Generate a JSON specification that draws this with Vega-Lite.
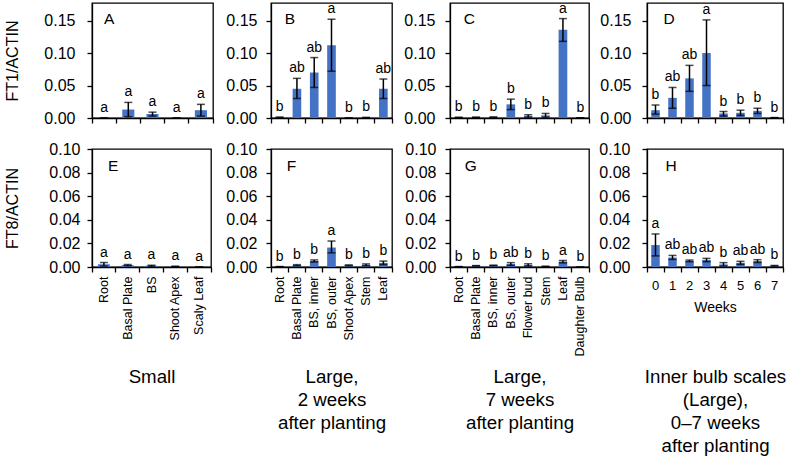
{
  "$schema": "https://vega.github.io/schema/vega-lite/v6.json",
  "padding": {"left": 4, "top": 0, "right": 1, "bottom": 1},
  "config": {
    "font": "Liberation Sans",
    "view": {"stroke": "#000", "strokeWidth": 1.3},
    "axis": {"labelFont": "Liberation Sans", "titleFont": "Liberation Sans", "labelColor": "#000", "titleColor": "#000", "domainColor": "#000", "tickColor": "#000", "grid": false, "labelFontSize": 16, "titleFontSize": 16, "titleFontWeight": "normal", "tickSize": 5, "domainWidth": 1.3, "tickWidth": 1.3, "labelOverlap": false},
    "text": {"font": "Liberation Sans", "fontSize": 14, "color": "#000"}
  },
  "datasets": {
    "A": [
      {"cat": "Root", "value": 0, "lo": 0, "hi": 0, "letter": "a"},
      {"cat": "Basal Plate", "value": 0.013, "lo": 0.002, "hi": 0.024, "letter": "a"},
      {"cat": "BS", "value": 0.006, "lo": 0.003, "hi": 0.009, "letter": "a"},
      {"cat": "Shoot Apex", "value": 0, "lo": 0, "hi": 0, "letter": "a"},
      {"cat": "Scaly Leaf", "value": 0.012, "lo": 0.003, "hi": 0.021, "letter": "a"}
    ],
    "B": [
      {"cat": "Root", "value": 0.001, "lo": 0.0005, "hi": 0.0015, "letter": "b"},
      {"cat": "Basal Plate", "value": 0.045, "lo": 0.030, "hi": 0.061, "letter": "ab"},
      {"cat": "BS, inner", "value": 0.070, "lo": 0.047, "hi": 0.093, "letter": "ab"},
      {"cat": "BS, outer", "value": 0.112, "lo": 0.072, "hi": 0.152, "letter": "a"},
      {"cat": "Shoot Apex", "value": 0, "lo": 0, "hi": 0, "letter": "b"},
      {"cat": "Stem", "value": 0.0005, "lo": 0, "hi": 0.001, "letter": "b"},
      {"cat": "Leaf", "value": 0.045, "lo": 0.030, "hi": 0.060, "letter": "ab"}
    ],
    "C": [
      {"cat": "Root", "value": 0.0008, "lo": 0.0005, "hi": 0.0012, "letter": "b"},
      {"cat": "Basal Plate", "value": 0.001, "lo": 0.0006, "hi": 0.0014, "letter": "b"},
      {"cat": "BS, inner", "value": 0.0012, "lo": 0.0007, "hi": 0.0017, "letter": "b"},
      {"cat": "BS, outer", "value": 0.021, "lo": 0.013, "hi": 0.029, "letter": "b"},
      {"cat": "Flower bud", "value": 0.003, "lo": 0.001, "hi": 0.005, "letter": "b"},
      {"cat": "Stem", "value": 0.004, "lo": 0.001, "hi": 0.007, "letter": "b"},
      {"cat": "Leaf", "value": 0.136, "lo": 0.118, "hi": 0.153, "letter": "a"},
      {"cat": "Daughter Bulb", "value": 0.0003, "lo": 0.0002, "hi": 0.0004, "letter": "b"}
    ],
    "D": [
      {"cat": "0", "value": 0.012, "lo": 0.006, "hi": 0.020, "letter": "b"},
      {"cat": "1", "value": 0.031, "lo": 0.015, "hi": 0.047, "letter": "ab"},
      {"cat": "2", "value": 0.061, "lo": 0.041, "hi": 0.081, "letter": "ab"},
      {"cat": "3", "value": 0.100, "lo": 0.050, "hi": 0.151, "letter": "a"},
      {"cat": "4", "value": 0.007, "lo": 0.003, "hi": 0.010, "letter": "b"},
      {"cat": "5", "value": 0.008, "lo": 0.004, "hi": 0.012, "letter": "b"},
      {"cat": "6", "value": 0.011, "lo": 0.007, "hi": 0.015, "letter": "b"},
      {"cat": "7", "value": 0.0005, "lo": 0.0003, "hi": 0.0007, "letter": "b"}
    ],
    "E": [
      {"cat": "Root", "value": 0.0023, "lo": 0.0008, "hi": 0.0038, "letter": "a"},
      {"cat": "Basal Plate", "value": 0.0016, "lo": 0.0011, "hi": 0.0021, "letter": "a"},
      {"cat": "BS", "value": 0.001, "lo": 0.0005, "hi": 0.0015, "letter": "a"},
      {"cat": "Shoot Apex", "value": 0.0005, "lo": 0.0003, "hi": 0.0007, "letter": "a"},
      {"cat": "Scaly Leaf", "value": 0, "lo": 0, "hi": 0, "letter": "a"}
    ],
    "F": [
      {"cat": "Root", "value": 0.0003, "lo": 0.0002, "hi": 0.0004, "letter": "b"},
      {"cat": "Basal Plate", "value": 0.0015, "lo": 0.001, "hi": 0.002, "letter": "b"},
      {"cat": "BS, inner", "value": 0.0051, "lo": 0.0042, "hi": 0.006, "letter": "b"},
      {"cat": "BS, outer", "value": 0.0165, "lo": 0.012, "hi": 0.022, "letter": "a"},
      {"cat": "Shoot Apex", "value": 0.0014, "lo": 0.001, "hi": 0.0018, "letter": "b"},
      {"cat": "Stem", "value": 0.0018, "lo": 0.001, "hi": 0.0026, "letter": "b"},
      {"cat": "Leaf", "value": 0.0035, "lo": 0.002, "hi": 0.005, "letter": "b"}
    ],
    "G": [
      {"cat": "Root", "value": 0.0003, "lo": 0.0002, "hi": 0.0004, "letter": "b"},
      {"cat": "Basal Plate", "value": 0.001, "lo": 0.0008, "hi": 0.0012, "letter": "b"},
      {"cat": "BS, inner", "value": 0.0013, "lo": 0.001, "hi": 0.0016, "letter": "b"},
      {"cat": "BS, outer", "value": 0.0025, "lo": 0.0013, "hi": 0.0037, "letter": "ab"},
      {"cat": "Flower bud", "value": 0.0017, "lo": 0.0007, "hi": 0.0027, "letter": "b"},
      {"cat": "Stem", "value": 0.0005, "lo": 0.0003, "hi": 0.0007, "letter": "b"},
      {"cat": "Leaf", "value": 0.0045, "lo": 0.0035, "hi": 0.0055, "letter": "a"},
      {"cat": "Daughter Bulb", "value": 0, "lo": 0, "hi": 0, "letter": "b"}
    ],
    "H": [
      {"cat": "0", "value": 0.0186, "lo": 0.0094, "hi": 0.028, "letter": "a"},
      {"cat": "1", "value": 0.008, "lo": 0.0064, "hi": 0.0098, "letter": "ab"},
      {"cat": "2", "value": 0.0052, "lo": 0.0045, "hi": 0.0059, "letter": "ab"},
      {"cat": "3", "value": 0.006, "lo": 0.0045, "hi": 0.0073, "letter": "ab"},
      {"cat": "4", "value": 0.0022, "lo": 0.0008, "hi": 0.0037, "letter": "b"},
      {"cat": "5", "value": 0.0035, "lo": 0.0022, "hi": 0.0048, "letter": "ab"},
      {"cat": "6", "value": 0.005, "lo": 0.0038, "hi": 0.0062, "letter": "ab"},
      {"cat": "7", "value": 0.001, "lo": 0.0007, "hi": 0.0013, "letter": "b"}
    ]
  },
  "columns": 4,
  "bounds": "flush",
  "align": "each",
  "spacing": {"row": 31, "column": 58},
  "concat": [
    {
      "width": 121, "height": 115,
      "data": {"name": "A"},
      "encoding": {"x": {"field": "cat", "type": "nominal", "sort": null, "scale": {"type": "band", "paddingInner": 0, "paddingOuter": 0}, "axis": {"labels": false, "title": null, "bandPosition": 1, "tickExtra": true}}},
      "layer": [
        {"mark": {"type": "bar", "color": "#4472C4", "width": {"band": 0.5}}, "encoding": {"y": {"field": "value", "type": "quantitative", "scale": {"domain": [0, 0.177], "nice": false}, "axis": {"values": [0, 0.05, 0.1, 0.15], "format": ".2f", "title": "FT1/ACTIN", "labelPadding": 12, "titlePadding": 23}}}},
        {"mark": {"type": "errorbar", "ticks": true, "size": 8, "thickness": 1.5, "color": "#000"}, "encoding": {"y": {"field": "lo", "type": "quantitative", "scale": {"domain": [0, 0.177], "nice": false}, "axis": {"values": [0, 0.05, 0.1, 0.15], "format": ".2f", "title": "FT1/ACTIN", "labelPadding": 12, "titlePadding": 23}}, "y2": {"field": "hi"}}},
        {"mark": {"type": "text", "baseline": "alphabetic", "dy": -6}, "encoding": {"y": {"field": "hi", "type": "quantitative", "scale": {"domain": [0, 0.177], "nice": false}, "axis": {"values": [0, 0.05, 0.1, 0.15], "format": ".2f", "title": "FT1/ACTIN", "labelPadding": 12, "titlePadding": 23}}, "text": {"field": "letter"}}},
        {"transform": [{"filter": "datum.cat == 'Root'"}], "mark": {"type": "text", "align": "left", "baseline": "alphabetic", "fontSize": 15.5, "dx": 0}, "encoding": {"y": {"datum": 0.145, "type": "quantitative", "scale": {"domain": [0, 0.177], "nice": false}, "axis": {"values": [0, 0.05, 0.1, 0.15], "format": ".2f", "title": "FT1/ACTIN", "labelPadding": 12, "titlePadding": 23}}, "text": {"value": "A"}}}
      ]
    },
    {
      "width": 121, "height": 115,
      "data": {"name": "B"},
      "encoding": {"x": {"field": "cat", "type": "nominal", "sort": null, "scale": {"type": "band", "paddingInner": 0, "paddingOuter": 0}, "axis": {"labels": false, "title": null, "bandPosition": 1, "tickExtra": true}}},
      "layer": [
        {"mark": {"type": "bar", "color": "#4472C4", "width": {"band": 0.5}}, "encoding": {"y": {"field": "value", "type": "quantitative", "scale": {"domain": [0, 0.177], "nice": false}, "axis": {"values": [0, 0.05, 0.1, 0.15], "format": ".2f", "title": null, "labelPadding": 9}}}},
        {"mark": {"type": "errorbar", "ticks": true, "size": 8, "thickness": 1.5, "color": "#000"}, "encoding": {"y": {"field": "lo", "type": "quantitative", "scale": {"domain": [0, 0.177], "nice": false}, "axis": {"values": [0, 0.05, 0.1, 0.15], "format": ".2f", "title": null, "labelPadding": 9}}, "y2": {"field": "hi"}}},
        {"mark": {"type": "text", "baseline": "alphabetic", "dy": -6}, "encoding": {"y": {"field": "hi", "type": "quantitative", "scale": {"domain": [0, 0.177], "nice": false}, "axis": {"values": [0, 0.05, 0.1, 0.15], "format": ".2f", "title": null, "labelPadding": 9}}, "text": {"field": "letter"}}},
        {"transform": [{"filter": "datum.cat == 'Root'"}], "mark": {"type": "text", "align": "left", "baseline": "alphabetic", "fontSize": 15.5, "dx": 5}, "encoding": {"y": {"datum": 0.145, "type": "quantitative", "scale": {"domain": [0, 0.177], "nice": false}, "axis": {"values": [0, 0.05, 0.1, 0.15], "format": ".2f", "title": null, "labelPadding": 9}}, "text": {"value": "B"}}}
      ]
    },
    {
      "width": 139, "height": 115,
      "data": {"name": "C"},
      "encoding": {"x": {"field": "cat", "type": "nominal", "sort": null, "scale": {"type": "band", "paddingInner": 0, "paddingOuter": 0}, "axis": {"labels": false, "title": null, "bandPosition": 1, "tickExtra": true}}},
      "layer": [
        {"mark": {"type": "bar", "color": "#4472C4", "width": {"band": 0.5}}, "encoding": {"y": {"field": "value", "type": "quantitative", "scale": {"domain": [0, 0.177], "nice": false}, "axis": {"values": [0, 0.05, 0.1, 0.15], "format": ".2f", "title": null, "labelPadding": 10}}}},
        {"mark": {"type": "errorbar", "ticks": true, "size": 8, "thickness": 1.5, "color": "#000"}, "encoding": {"y": {"field": "lo", "type": "quantitative", "scale": {"domain": [0, 0.177], "nice": false}, "axis": {"values": [0, 0.05, 0.1, 0.15], "format": ".2f", "title": null, "labelPadding": 10}}, "y2": {"field": "hi"}}},
        {"mark": {"type": "text", "baseline": "alphabetic", "dy": -6}, "encoding": {"y": {"field": "hi", "type": "quantitative", "scale": {"domain": [0, 0.177], "nice": false}, "axis": {"values": [0, 0.05, 0.1, 0.15], "format": ".2f", "title": null, "labelPadding": 10}}, "text": {"field": "letter"}}},
        {"transform": [{"filter": "datum.cat == 'Root'"}], "mark": {"type": "text", "align": "left", "baseline": "alphabetic", "fontSize": 15.5, "dx": 5}, "encoding": {"y": {"datum": 0.145, "type": "quantitative", "scale": {"domain": [0, 0.177], "nice": false}, "axis": {"values": [0, 0.05, 0.1, 0.15], "format": ".2f", "title": null, "labelPadding": 10}}, "text": {"value": "C"}}}
      ]
    },
    {
      "width": 136, "height": 115,
      "data": {"name": "D"},
      "encoding": {"x": {"field": "cat", "type": "nominal", "sort": null, "scale": {"type": "band", "paddingInner": 0, "paddingOuter": 0}, "axis": {"labels": false, "title": null, "bandPosition": 1, "tickExtra": true}}},
      "layer": [
        {"mark": {"type": "bar", "color": "#4472C4", "width": {"band": 0.5}}, "encoding": {"y": {"field": "value", "type": "quantitative", "scale": {"domain": [0, 0.177], "nice": false}, "axis": {"values": [0, 0.05, 0.1, 0.15], "format": ".2f", "title": null, "labelPadding": 11}}}},
        {"mark": {"type": "errorbar", "ticks": true, "size": 8, "thickness": 1.5, "color": "#000"}, "encoding": {"y": {"field": "lo", "type": "quantitative", "scale": {"domain": [0, 0.177], "nice": false}, "axis": {"values": [0, 0.05, 0.1, 0.15], "format": ".2f", "title": null, "labelPadding": 11}}, "y2": {"field": "hi"}}},
        {"mark": {"type": "text", "baseline": "alphabetic", "dy": -6}, "encoding": {"y": {"field": "hi", "type": "quantitative", "scale": {"domain": [0, 0.177], "nice": false}, "axis": {"values": [0, 0.05, 0.1, 0.15], "format": ".2f", "title": null, "labelPadding": 11}}, "text": {"field": "letter"}}},
        {"transform": [{"filter": "datum.cat == '0'"}], "mark": {"type": "text", "align": "left", "baseline": "alphabetic", "fontSize": 15.5, "dx": 8}, "encoding": {"y": {"datum": 0.145, "type": "quantitative", "scale": {"domain": [0, 0.177], "nice": false}, "axis": {"values": [0, 0.05, 0.1, 0.15], "format": ".2f", "title": null, "labelPadding": 11}}, "text": {"value": "D"}}}
      ]
    },
    {
      "width": 119, "height": 118,
      "data": {"name": "E"},
      "encoding": {"x": {"field": "cat", "type": "nominal", "sort": null, "scale": {"type": "band", "paddingInner": 0, "paddingOuter": 0}, "axis": {"labelAngle": -90, "labelFontSize": 12.5, "labelPadding": 4, "bandPosition": 1, "tickExtra": true, "title": ["Small"], "titleY": 100, "titleBaseline": "top", "titleFontSize": 18.7, "titleLineHeight": 23}}},
      "layer": [
        {"mark": {"type": "bar", "color": "#4472C4", "width": {"band": 0.5}}, "encoding": {"y": {"field": "value", "type": "quantitative", "scale": {"domain": [0, 0.1], "nice": false}, "axis": {"values": [0, 0.02, 0.04, 0.06, 0.08, 0.1], "format": ".2f", "title": "FT8/ACTIN", "labelPadding": 7, "titlePadding": 28}}}},
        {"mark": {"type": "errorbar", "ticks": true, "size": 8, "thickness": 1.5, "color": "#000"}, "encoding": {"y": {"field": "lo", "type": "quantitative", "scale": {"domain": [0, 0.1], "nice": false}, "axis": {"values": [0, 0.02, 0.04, 0.06, 0.08, 0.1], "format": ".2f", "title": "FT8/ACTIN", "labelPadding": 7, "titlePadding": 28}}, "y2": {"field": "hi"}}},
        {"mark": {"type": "text", "baseline": "alphabetic", "dy": -6}, "encoding": {"y": {"field": "hi", "type": "quantitative", "scale": {"domain": [0, 0.1], "nice": false}, "axis": {"values": [0, 0.02, 0.04, 0.06, 0.08, 0.1], "format": ".2f", "title": "FT8/ACTIN", "labelPadding": 7, "titlePadding": 28}}, "text": {"field": "letter"}}},
        {"transform": [{"filter": "datum.cat == 'Root'"}], "mark": {"type": "text", "align": "left", "baseline": "alphabetic", "fontSize": 15.5, "dx": 4}, "encoding": {"y": {"datum": 0.0816, "type": "quantitative", "scale": {"domain": [0, 0.1], "nice": false}, "axis": {"values": [0, 0.02, 0.04, 0.06, 0.08, 0.1], "format": ".2f", "title": "FT8/ACTIN", "labelPadding": 7, "titlePadding": 28}}, "text": {"value": "E"}}}
      ]
    },
    {
      "width": 121, "height": 118,
      "data": {"name": "F"},
      "encoding": {"x": {"field": "cat", "type": "nominal", "sort": null, "scale": {"type": "band", "paddingInner": 0, "paddingOuter": 0}, "axis": {"labelAngle": -90, "labelFontSize": 12.5, "labelPadding": 4, "bandPosition": 1, "tickExtra": true, "title": ["Large,", "2 weeks", "after planting"], "titleY": 100, "titleBaseline": "top", "titleFontSize": 18.7, "titleLineHeight": 23}}},
      "layer": [
        {"mark": {"type": "bar", "color": "#4472C4", "width": {"band": 0.5}}, "encoding": {"y": {"field": "value", "type": "quantitative", "scale": {"domain": [0, 0.1], "nice": false}, "axis": {"values": [0, 0.02, 0.04, 0.06, 0.08, 0.1], "format": ".2f", "title": null, "labelPadding": 9}}}},
        {"mark": {"type": "errorbar", "ticks": true, "size": 8, "thickness": 1.5, "color": "#000"}, "encoding": {"y": {"field": "lo", "type": "quantitative", "scale": {"domain": [0, 0.1], "nice": false}, "axis": {"values": [0, 0.02, 0.04, 0.06, 0.08, 0.1], "format": ".2f", "title": null, "labelPadding": 9}}, "y2": {"field": "hi"}}},
        {"mark": {"type": "text", "baseline": "alphabetic", "dy": -6}, "encoding": {"y": {"field": "hi", "type": "quantitative", "scale": {"domain": [0, 0.1], "nice": false}, "axis": {"values": [0, 0.02, 0.04, 0.06, 0.08, 0.1], "format": ".2f", "title": null, "labelPadding": 9}}, "text": {"field": "letter"}}},
        {"transform": [{"filter": "datum.cat == 'Root'"}], "mark": {"type": "text", "align": "left", "baseline": "alphabetic", "fontSize": 15.5, "dx": 7}, "encoding": {"y": {"datum": 0.0816, "type": "quantitative", "scale": {"domain": [0, 0.1], "nice": false}, "axis": {"values": [0, 0.02, 0.04, 0.06, 0.08, 0.1], "format": ".2f", "title": null, "labelPadding": 9}}, "text": {"value": "F"}}}
      ]
    },
    {
      "width": 139, "height": 118,
      "data": {"name": "G"},
      "encoding": {"x": {"field": "cat", "type": "nominal", "sort": null, "scale": {"type": "band", "paddingInner": 0, "paddingOuter": 0}, "axis": {"labelAngle": -90, "labelFontSize": 12.5, "labelPadding": 4, "bandPosition": 1, "tickExtra": true, "title": ["Large,", "7 weeks", "after planting"], "titleY": 100, "titleBaseline": "top", "titleFontSize": 18.7, "titleLineHeight": 23}}},
      "layer": [
        {"mark": {"type": "bar", "color": "#4472C4", "width": {"band": 0.5}}, "encoding": {"y": {"field": "value", "type": "quantitative", "scale": {"domain": [0, 0.1], "nice": false}, "axis": {"values": [0, 0.02, 0.04, 0.06, 0.08, 0.1], "format": ".2f", "title": null, "labelPadding": 9}}}},
        {"mark": {"type": "errorbar", "ticks": true, "size": 8, "thickness": 1.5, "color": "#000"}, "encoding": {"y": {"field": "lo", "type": "quantitative", "scale": {"domain": [0, 0.1], "nice": false}, "axis": {"values": [0, 0.02, 0.04, 0.06, 0.08, 0.1], "format": ".2f", "title": null, "labelPadding": 9}}, "y2": {"field": "hi"}}},
        {"mark": {"type": "text", "baseline": "alphabetic", "dy": -6}, "encoding": {"y": {"field": "hi", "type": "quantitative", "scale": {"domain": [0, 0.1], "nice": false}, "axis": {"values": [0, 0.02, 0.04, 0.06, 0.08, 0.1], "format": ".2f", "title": null, "labelPadding": 9}}, "text": {"field": "letter"}}},
        {"transform": [{"filter": "datum.cat == 'Root'"}], "mark": {"type": "text", "align": "left", "baseline": "alphabetic", "fontSize": 15.5, "dx": 6}, "encoding": {"y": {"datum": 0.0816, "type": "quantitative", "scale": {"domain": [0, 0.1], "nice": false}, "axis": {"values": [0, 0.02, 0.04, 0.06, 0.08, 0.1], "format": ".2f", "title": null, "labelPadding": 9}}, "text": {"value": "G"}}}
      ]
    },
    {
      "width": 136, "height": 118,
      "data": {"name": "H"},
      "resolve": {"scale": {"x": "independent"}},
      "layer": [
        {
          "encoding": {"x": {"field": "cat", "type": "nominal", "sort": null, "scale": {"type": "band", "paddingInner": 0, "paddingOuter": 0}, "axis": {"labelAngle": 0, "labelFontSize": 13, "labelPadding": 7, "bandPosition": 1, "tickExtra": true, "title": "Weeks", "titleFontSize": 14, "titleY": 40, "titleBaseline": "middle"}}},
          "layer": [
            {"mark": {"type": "bar", "color": "#4472C4", "width": {"band": 0.5}}, "encoding": {"y": {"field": "value", "type": "quantitative", "scale": {"domain": [0, 0.1], "nice": false}, "axis": {"values": [0, 0.02, 0.04, 0.06, 0.08, 0.1], "format": ".2f", "title": null, "labelPadding": 12}}}},
            {"mark": {"type": "errorbar", "ticks": true, "size": 8, "thickness": 1.5, "color": "#000"}, "encoding": {"y": {"field": "lo", "type": "quantitative", "scale": {"domain": [0, 0.1], "nice": false}, "axis": {"values": [0, 0.02, 0.04, 0.06, 0.08, 0.1], "format": ".2f", "title": null, "labelPadding": 12}}, "y2": {"field": "hi"}}},
            {"mark": {"type": "text", "baseline": "alphabetic", "dy": -6}, "encoding": {"y": {"field": "hi", "type": "quantitative", "scale": {"domain": [0, 0.1], "nice": false}, "axis": {"values": [0, 0.02, 0.04, 0.06, 0.08, 0.1], "format": ".2f", "title": null, "labelPadding": 12}}, "text": {"field": "letter"}}},
            {"transform": [{"filter": "datum.cat == '0'"}], "mark": {"type": "text", "align": "left", "baseline": "alphabetic", "fontSize": 15.5, "dx": 10}, "encoding": {"y": {"datum": 0.0816, "type": "quantitative", "scale": {"domain": [0, 0.1], "nice": false}, "axis": {"values": [0, 0.02, 0.04, 0.06, 0.08, 0.1], "format": ".2f", "title": null, "labelPadding": 12}}, "text": {"value": "H"}}}
          ]
        },
        {
          "mark": {"type": "tick", "opacity": 0},
          "encoding": {"x": {"field": "cat", "type": "nominal", "sort": null, "scale": {"type": "band", "paddingInner": 0, "paddingOuter": 0}, "axis": {"orient": "bottom", "labels": false, "ticks": false, "domain": false, "title": ["Inner bulb scales", "(Large),", "0–7 weeks", "after planting"], "titleY": 100, "titleBaseline": "top", "titleFontSize": 18.7, "titleLineHeight": 23}}}
        }
      ]
    }
  ]
}
